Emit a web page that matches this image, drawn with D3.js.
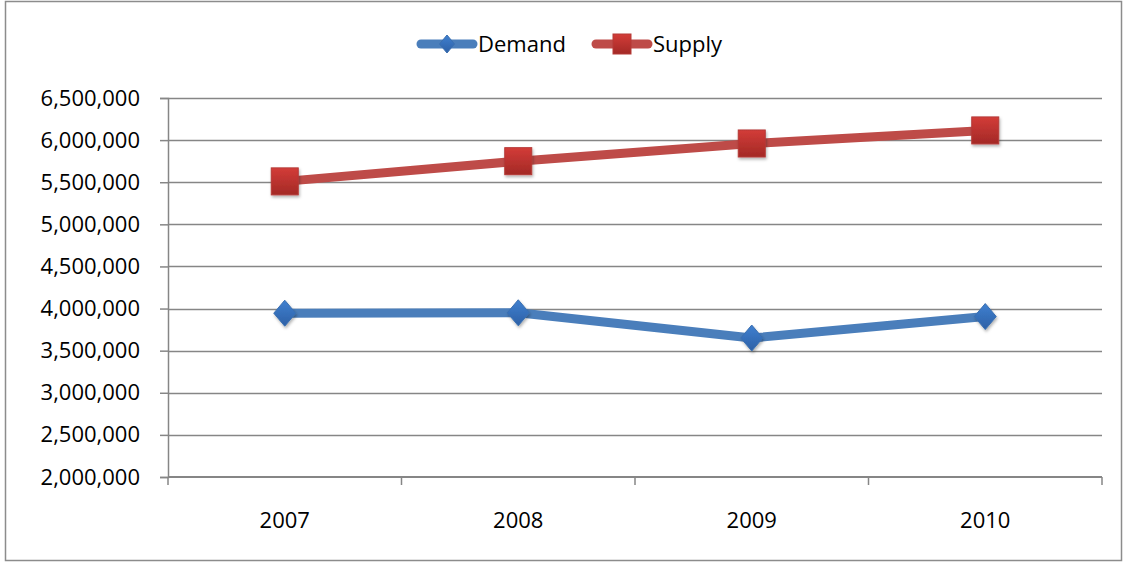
<!DOCTYPE html>
<html>
<head>
<meta charset="utf-8">
<script src="https://cdn.jsdelivr.net/npm/d3@7"></script>
<style>
    body { margin: 0; background: #fff; }
    svg text { font-family: "Open Sans", "Noto Sans", sans-serif; fill: #000; }
</style>
</head>
<body>
<div id="chart"></div>
<script>
const years = ['2007', '2008', '2009', '2010'];
const demand = [3945000, 3950000, 3650000, 3905000];
const supply = [5510000, 5750000, 5960000, 6115000];
const yTicks = [2000000, 2500000, 3000000, 3500000, 4000000, 4500000, 5000000, 5500000, 6000000, 6500000];

const width = 1124;
const height = 563;
const margin = { top: 98, right: 22, bottom: 86, left: 168 };
const fontSize = 22;

const svg = d3.select('#chart').append('svg')
    .attr('width', width)
    .attr('height', height);

// outer chart border
svg.append('rect')
    .attr('x', 5.5).attr('y', 1.5)
    .attr('width', width - 8).attr('height', height - 4)
    .attr('fill', 'none')
    .attr('stroke', '#8c8c8c')
    .attr('stroke-width', 1.5);

const innerWidth = width - margin.left - margin.right;
const innerHeight = height - margin.top - margin.bottom;

const chartGroup = svg.append('g')
    .attr('transform', `translate(${margin.left},${margin.top})`);

const xScale = d3.scaleBand()
    .domain(years)
    .range([0, innerWidth]);

const yScale = d3.scaleLinear()
    .domain([2000000, 6500000])
    .range([innerHeight, 0]);

const axisColor = '#868686';
const fmt = d3.format(',');

// shadow used by the markers
const defs = svg.append('defs');
const shadow = defs.append('filter').attr('id', 'shadow')
    .attr('x', '-50%').attr('y', '-50%').attr('width', '200%').attr('height', '200%');
shadow.append('feDropShadow')
    .attr('dx', 1).attr('dy', 2).attr('stdDeviation', 1.5)
    .attr('flood-color', '#000').attr('flood-opacity', 0.3);

const grad = (id, top, bottom) => {
    const g = defs.append('linearGradient').attr('id', id).attr('x1', 0).attr('y1', 0).attr('x2', 0).attr('y2', 1);
    g.append('stop').attr('offset', '0%').attr('stop-color', top);
    g.append('stop').attr('offset', '100%').attr('stop-color', bottom);
};
grad('gradDemand', '#3f80d0', '#2d60a6');
grad('gradSupply', '#d33c38', '#a32926');

// gridlines
chartGroup.append('g')
    .selectAll('line')
    .data(yTicks.slice(1))
    .enter()
    .append('line')
    .attr('x1', 0)
    .attr('x2', innerWidth)
    .attr('y1', (d) => Math.round(yScale(d)) + 0.5)
    .attr('y2', (d) => Math.round(yScale(d)) + 0.5)
    .attr('stroke', axisColor)
    .attr('stroke-width', 1.5);

// y axis
chartGroup.append('g')
    .call(d3.axisLeft(yScale).tickValues(yTicks).tickFormat(fmt).tickSize(8).tickPadding(20))
    .call((g) => g.select('.domain').attr('stroke', axisColor).attr('stroke-width', 1.5))
    .call((g) => g.selectAll('line').attr('stroke', axisColor).attr('stroke-width', 1.5))
    .call((g) => g.selectAll('text').attr('font-size', fontSize).attr('fill', '#000')
        .style('font-family', '"Open Sans", sans-serif'));

// x axis with ticks at category boundaries
const xAxis = chartGroup.append('g')
    .attr('transform', `translate(0,${innerHeight})`);

xAxis.append('line')
    .attr('x1', 0).attr('x2', innerWidth)
    .attr('stroke', axisColor).attr('stroke-width', 2);

const boundaries = years.map((y) => xScale(y)).concat([innerWidth]);
xAxis.selectAll('.xtick')
    .data(boundaries)
    .enter()
    .append('line')
    .attr('class', 'xtick')
    .attr('x1', (d) => d).attr('x2', (d) => d)
    .attr('y1', 0).attr('y2', 8)
    .attr('stroke', axisColor).attr('stroke-width', 1.5);

xAxis.selectAll('.xlabel')
    .data(years)
    .enter()
    .append('text')
    .attr('class', 'xlabel')
    .attr('x', (d) => xScale(d) + xScale.bandwidth() / 2)
    .attr('y', 43)
    .attr('dy', '0.35em')
    .attr('text-anchor', 'middle')
    .attr('font-size', fontSize)
    .text((d) => d);

const seriesList = [
    { name: 'Demand', values: demand, color: '#4a7ebb', marker: 'diamond' },
    { name: 'Supply', values: supply, color: '#be4b48', marker: 'square' }
];

const lineGen = d3.line()
    .x((d, i) => xScale(years[i]) + xScale.bandwidth() / 2)
    .y((d) => yScale(d));

function drawMarker(group, series, cx, cy, w, h) {
    if (series.marker === 'diamond') {
        group.append('path')
            .attr('d', `M${cx},${cy - h}L${cx + w},${cy}L${cx},${cy + h}L${cx - w},${cy}Z`)
            .attr('fill', 'url(#gradDemand)')
            .attr('stroke', '#3a6fb0')
            .attr('stroke-width', 1);
    } else {
        group.append('rect')
            .attr('x', cx - w).attr('y', cy - h)
            .attr('width', 2 * w).attr('height', 2 * h)
            .attr('fill', 'url(#gradSupply)')
            .attr('stroke', '#b53a37')
            .attr('stroke-width', 1);
    }
}

seriesList.forEach((series) => {
    chartGroup.append('path')
        .datum(series.values)
        .attr('d', lineGen)
        .attr('fill', 'none')
        .attr('stroke', series.color)
        .attr('stroke-width', 9)
        .attr('stroke-linejoin', 'round')
        .attr('stroke-linecap', 'round');

    const markerGroup = chartGroup.append('g').attr('filter', 'url(#shadow)');
    series.values.forEach((value, i) => {
        const cx = xScale(years[i]) + xScale.bandwidth() / 2;
        const cy = yScale(value);
        if (series.marker === 'diamond') drawMarker(markerGroup, series, cx, cy, 11, 13);
        else drawMarker(markerGroup, series, cx, cy, 13.5, 13.5);
    });
});

// legend
const legend = svg.append('g').attr('transform', 'translate(0,44)');
const legendItems = [
    { series: seriesList[0], x: 417 },
    { series: seriesList[1], x: 592 }
];
legendItems.forEach(({ series, x }) => {
    legend.append('line')
        .attr('x1', x + 4).attr('x2', x + 56)
        .attr('y1', 0).attr('y2', 0)
        .attr('stroke', series.color)
        .attr('stroke-width', 9)
        .attr('stroke-linecap', 'round');
    const g = legend.append('g');
    if (series.marker === 'diamond') drawMarker(g, series, x + 30, 0, 7.5, 9);
    else drawMarker(g, series, x + 30, 0, 9, 10);
    legend.append('text')
        .attr('x', x + 61)
        .attr('y', 0)
        .attr('dy', '0.35em')
        .attr('font-size', fontSize)
        .text(series.name);
});
</script>
</body>
</html>
